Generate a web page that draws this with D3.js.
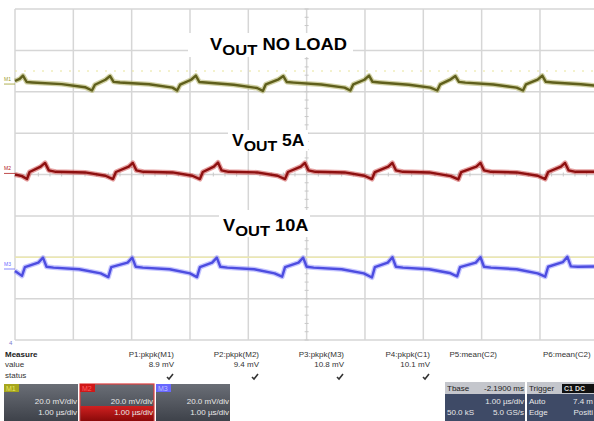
<!DOCTYPE html>
<html><head><meta charset="utf-8">
<script src="https://cdn.jsdelivr.net/npm/d3@7"></script>
<style>body{margin:0;background:#fff}svg{display:block}text{font-family:"Liberation Sans",Arial,sans-serif}</style>
</head><body>
<script>
// ---- data (time in µs, voltage in mV relative to trace offset) ----
const yellowT = [0,0.08,0.137,0.2,0.3,0.8,1.2,1.32, 1.37,1.55,1.63,1.69,1.8,2.3,2.7,2.78, 2.83,3.02,3.10,3.16,3.27,3.75,4.15,4.25, 4.30,4.52,4.60,4.66,4.78,5.25,5.65,5.75, 5.80,5.99,6.07,6.13,6.25,6.75,7.12,7.24, 7.29,7.47,7.55,7.61,7.72,8.2,8.6,8.71, 8.76,8.96,9.04,9.10,9.22,9.7,10.0];
const yellowV = [1.0,2.0,3.6,0.5,0.3,-0.5,-2.0,-3.6, -0.8,1.6,3.4,0.6,0.3,-0.6,-2.2,-3.6, -0.8,1.6,3.6,0.5,0.3,-0.8,-2.4,-3.8, -0.6,1.8,3.4,0.5,0.2,-0.7,-2.2,-3.6, -0.6,1.6,3.6,0.6,0.3,-0.8,-2.2,-3.6, -0.6,1.8,3.4,0.6,0.2,-0.7,-2.2,-3.6, -0.6,1.7,3.6,0.6,0.3,-0.6,-1.4];
const redT = [0,0.12,0.206,0.25,0.44,0.515,0.58,0.7,1.2,1.55,1.68, 1.73,1.95,2.02,2.08,2.2,2.7,3.04,3.17, 3.22,3.41,3.48,3.54,3.66,4.15,4.5,4.63, 4.68,4.90,4.97,5.03,5.15,5.65,5.99,6.12, 6.17,6.40,6.47,6.53,6.65,7.1,7.47,7.60, 7.65,7.91,7.98,8.04,8.16,8.6,8.96,9.09, 9.14,9.36,9.43,9.49,9.61,10.0];
const redV = [-1.0,-1.8,-3.2,0.2,2.8,4.6,1.0,0.3,0.0,-1.6,-3.2, 0.2,2.8,4.6,1.0,0.3,0.0,-1.6,-3.2, 0.2,2.8,4.8,1.0,0.3,0.0,-1.6,-3.2, 0.2,2.8,4.6,1.0,0.3,0.0,-1.6,-3.2, 0.2,2.8,4.6,1.0,0.3,0.0,-1.8,-3.4, 0.2,2.8,4.6,1.0,0.3,0.0,-1.6,-3.2, 0.2,2.8,4.6,1.0,0.3,0.3];
const blueT = [0,0.12,0.17,0.4,0.48,0.54,0.66,1.1,1.47,1.60, 1.65,1.93,2.01,2.07,2.19,2.65,3.0,3.12, 3.17,3.38,3.46,3.52,3.64,4.1,4.45,4.58, 4.63,4.86,4.94,5.00,5.12,5.6,5.98,6.12, 6.17,6.39,6.47,6.53,6.65,7.1,7.45,7.58, 7.63,7.90,7.98,8.04,8.16,8.6,8.96,9.09, 9.14,9.39,9.47,9.53,9.65,10.0];
const blueV = [-1.4,-3.8,0.4,2.6,5.0,0.6,0.2,-0.6,-2.6,-4.4, 0.4,2.6,5.0,0.6,0.2,-0.6,-2.6,-4.4, 0.4,2.6,5.0,0.6,0.2,-0.6,-2.6,-4.2, 0.4,2.6,5.0,0.6,0.2,-0.6,-2.6,-4.6, 0.4,2.6,5.2,0.6,0.2,-0.6,-2.4,-4.0, 0.4,2.6,5.2,0.6,0.2,-0.6,-2.6,-4.2, 0.6,2.8,5.4,0.8,0.6,0.8];
const traceNames = ["M1","M2","M3"];
const traceOffsetDiv = [2.21, 0.05, -2.26];
const traceLabels = [["V","OUT"," NO LOAD"],["V","OUT"," 5A"],["V","OUT"," 10A"]];
const measNames = ["P1:pkpk(M1)","P2:pkpk(M2)","P3:pkpk(M3)","P4:pkpk(C1)","P5:mean(C2)","P6:mean(C2)"];
const measValues = ["8.9 mV","9.4 mV","10.8 mV","10.1 mV","",""];
const chanScale = ["20.0 mV/div","20.0 mV/div","20.0 mV/div"];
const chanTime = ["1.00 µs/div","1.00 µs/div","1.00 µs/div"];

const W=594,H=421;
const svg=d3.select("body").append("svg").attr("width",W).attr("height",H);
const x=d3.scaleLinear().domain([0,10]).range([15,598.3]);
const y=d3.scaleLinear().domain([-4,4]).range([340,9]);
const mvPerDiv=20;

// grid
const g=svg.append("g");
g.selectAll("line.v").data(d3.range(0,11)).join("line")
 .attr("x1",d=>x(d)).attr("x2",d=>x(d)).attr("y1",y(4)).attr("y2",y(-4))
 .attr("stroke","#d6d6d6").attr("stroke-width",1.5);
g.selectAll("line.h").data(d3.range(-4,5)).join("line")
 .attr("x1",x(0)).attr("x2",W).attr("y1",d=>y(d)).attr("y2",d=>y(d))
 .attr("stroke","#d6d6d6").attr("stroke-width",1.5);
// center ticks
g.selectAll("line.ct").data(d3.range(-4,4.01,0.2)).join("line")
 .attr("x1",x(5)-2).attr("x2",x(5)+2).attr("y1",d=>y(d)).attr("y2",d=>y(d))
 .attr("stroke","#c8c8c8").attr("stroke-width",1);
g.selectAll("line.ch").data(d3.range(0,10.01,0.2)).join("line")
 .attr("x1",d=>x(d)).attr("x2",d=>x(d)).attr("y1",y(0)-2).attr("y2",y(0)+2)
 .attr("stroke","#c8c8c8").attr("stroke-width",1);
// faint yellow reference lines
g.append("line").attr("x1",x(0)).attr("x2",W).attr("y1",71).attr("y2",71)
 .attr("stroke","#e8e49a").attr("stroke-width",1).attr("stroke-dasharray","2,7");
g.append("line").attr("x1",x(0)).attr("x2",W).attr("y1",y(-2)).attr("y2",y(-2))
 .attr("stroke","#ece8b0").attr("stroke-width",1.5);

// traces
const series=[[yellowT,yellowV],[redT,redV],[blueT,blueV]];
const cols=[{halo:"#a3a34a",core:"#5f5f1c",lab:"#9c9c2a"},{halo:"#cc4040",core:"#8e1010",lab:"#b02020"},{halo:"#8c8cff",core:"#4d4de0",lab:"#6a6aff"}];
series.forEach(([T,V],i)=>{
  const pts=T.map((t,k)=>[t,V[k]]);
  const line=d3.line().x(d=>x(d[0])).y(d=>y(traceOffsetDiv[i]+d[1]/mvPerDiv));
  svg.append("path").attr("d",line(pts)).attr("fill","none").attr("stroke",cols[i].halo)
    .attr("stroke-width",5).attr("stroke-opacity",0.5).attr("stroke-linejoin","round");
  svg.append("path").attr("d",line(pts)).attr("fill","none").attr("stroke",cols[i].core)
    .attr("stroke-width",2.4).attr("stroke-linejoin","round");
  const yy=y(traceOffsetDiv[i]);
  svg.append("text").attr("x",4).attr("y",yy-2).attr("font-size",5).attr("fill",cols[i].lab).text(traceNames[i]);
  svg.append("line").attr("x1",4).attr("x2",15).attr("y1",yy+1).attr("y2",yy+1).attr("stroke",cols[i].lab).attr("stroke-width",0.8);
});

// labels with white boxes
const boxes=[[188,33,165,24],[228,130,80,21],[219,210,91,27]];
const lpos=[[210,50,137],[232,146,73],[223,231,86]];
traceLabels.forEach((L,i)=>{
  svg.append("rect").attr("x",boxes[i][0]).attr("y",boxes[i][1]).attr("width",boxes[i][2]).attr("height",boxes[i][3]).attr("fill","#fff");
  const gg=svg.append("g").attr("transform",`translate(${lpos[i][0]},${lpos[i][1]})`);
  const t=gg.append("text").attr("font-weight","bold").attr("font-size",16).attr("fill","#000");
  t.append("tspan").text(L[0]);
  t.append("tspan").attr("font-size",14.5).attr("dy",4.5).text(L[1]);
  t.append("tspan").attr("dy",-4.5).text(L[2]);
  const w=t.node().getBBox().width;
  gg.attr("transform",`translate(${lpos[i][0]},${lpos[i][1]}) scale(${lpos[i][2]/w},1)`);
});

// bottom measure panel
svg.append("text").attr("x",9).attr("y",345).attr("font-size",6).attr("fill","#7a7ad0").text("4");
const mt=svg.append("g").attr("font-size",8).attr("fill","#333");
mt.append("text").attr("x",5).attr("y",357).attr("font-weight","bold").attr("fill","#222").text("Measure");
mt.append("text").attr("x",5).attr("y",367).text("value");
mt.append("text").attr("x",5).attr("y",378).text("status");
const colR=[174,259,344,430,497,594];
measNames.forEach((n,i)=>{
  if(i<5) mt.append("text").attr("x",colR[i]).attr("y",357).attr("text-anchor","end").text(n);
  else mt.append("text").attr("x",543).attr("y",357).text(n);
  if(measValues[i]){
    mt.append("text").attr("x",colR[i]).attr("y",367).attr("text-anchor","end").text(measValues[i]);
    const cx=colR[i]-4, cy=377;
    svg.append("path").attr("d",`M${cx-3},${cy} L${cx-1},${cy+2} L${cx+3},${cy-3}`).attr("fill","none").attr("stroke","#333").attr("stroke-width",1.6);
  }
});

// channel boxes
const defs=svg.append("defs");
const gr=defs.append("linearGradient").attr("id","gbox").attr("x1",0).attr("x2",0).attr("y1",0).attr("y2",1);
gr.append("stop").attr("offset","0").attr("stop-color","#6a6e76");
gr.append("stop").attr("offset","1").attr("stop-color","#3e424a");
const gred=defs.append("linearGradient").attr("id","gred").attr("x1",0).attr("x2",0).attr("y1",0).attr("y2",1);
gred.append("stop").attr("offset","0").attr("stop-color","#d02020");
gred.append("stop").attr("offset","1").attr("stop-color","#8a0a0a");
const chX=[4,80,156], labCol=["#a6a61e","#d01818","#6868ff"], labTxt=["#e8e860","#ff6060","#c0c0ff"];
traceNames.forEach((n,i)=>{
  const bx=chX[i];
  svg.append("rect").attr("x",bx).attr("y",384).attr("width",74).attr("height",37).attr("fill","url(#gbox)")
    .attr("stroke",i===1?"#e04040":"none").attr("stroke-width",1.2);
  if(i===1) svg.append("rect").attr("x",bx+0.6).attr("y",406).attr("width",72.8).attr("height",15).attr("fill","url(#gred)");
  svg.append("rect").attr("x",bx).attr("y",384).attr("width",15).attr("height",8).attr("fill",labCol[i]);
  svg.append("text").attr("x",bx+2).attr("y",391).attr("font-size",7).attr("fill",labTxt[i]).text(n);
  svg.append("text").attr("x",bx+73).attr("y",404).attr("font-size",8).attr("text-anchor","end").attr("fill","#e8e8e8").text(chanScale[i]);
  svg.append("text").attr("x",bx+73).attr("y",415).attr("font-size",8).attr("text-anchor","end").attr("fill","#e8e8e8").text(chanTime[i]);
});

// timebase / trigger boxes
function infoBox(bx,w,rows){
  svg.append("rect").attr("x",bx).attr("y",382).attr("width",w).attr("height",12).attr("fill","#c4c6cc");
  svg.append("rect").attr("x",bx).attr("y",394).attr("width",w).attr("height",27).attr("fill","#3e4a66");
  rows.forEach((r,k)=>{
    const yy=[391,404,415][k], fc=k===0?"#222":"#e8e8e8";
    if(r[0]) svg.append("text").attr("x",bx+2).attr("y",yy).attr("font-size",8).attr("fill",fc).text(r[0]);
    if(r[1]) svg.append("text").attr("x",r[2]).attr("y",yy).attr("font-size",8).attr("fill",fc).attr("text-anchor",r[3]).text(r[1]);
  });
}
infoBox(445,80,[["Tbase","-2.1900 ms",524,"end"],["","1.00 µs/div",524,"end"],["50.0 kS","5.0 GS/s",524,"end"]]);
infoBox(527,70,[["Trigger","",0,"start"],["Auto","7.4 m",593,"end"],["Edge","Positi",593,"end"]]);
svg.append("rect").attr("x",562).attr("y",384).attr("width",32).attr("height",9).attr("fill","#111");
svg.append("text").attr("x",564).attr("y",391).attr("font-size",7).attr("font-weight","bold").attr("fill","#ddd").text("C1 DC");
</script>
</body></html>
